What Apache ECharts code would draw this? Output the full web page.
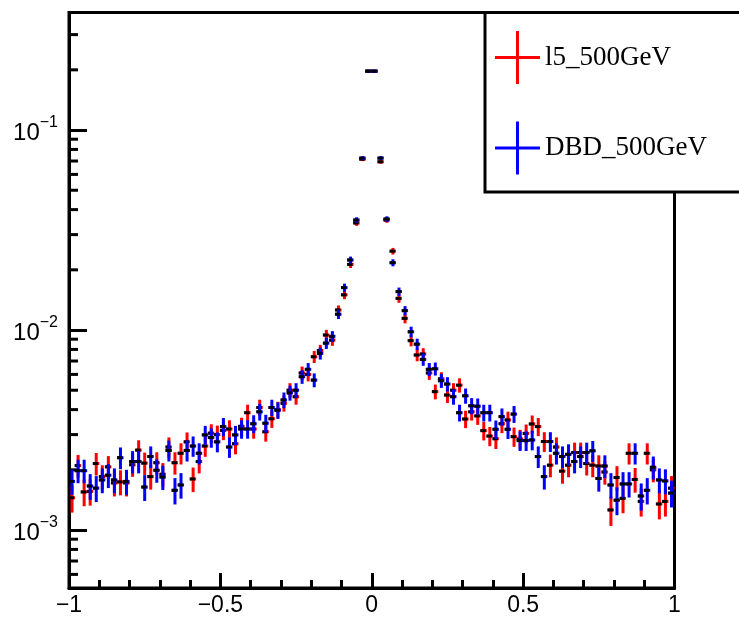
<!DOCTYPE html>
<html>
<head>
<meta charset="utf-8">
<script src="https://cdn.jsdelivr.net/npm/echarts@6/dist/echarts.min.js"></script>
<style>
html,body{margin:0;padding:0;background:#fff;}
#chart{width:739px;height:617px;}
</style>
</head>
<body>
<div id="chart"></div>
<script>
// ---- histogram binning: 100 bins on [-1, 1] ----
const xMin = -1, xMax = 1, nBins = 100;
const yMin = 5.13e-4, yMax = 0.387;
const seriesNames = ['l5_500GeV', 'DBD_500GeV'];
const seriesColors = ['#ff0000', '#0000ff'];

// bin contents (normalised), l5_500GeV (red)
const l5Values = [
  1.45e-3, 2.10e-3, 1.55e-3, 1.56e-3, 2.15e-3, 1.85e-3, 2.07e-3, 1.72e-3, 1.74e-3, 1.72e-3,
  2.12e-3, 2.51e-3, 2.16e-3, 1.85e-3, 2.17e-3, 1.90e-3, 2.60e-3, 2.17e-3, 2.42e-3, 2.76e-3,
  1.80e-3, 2.20e-3, 2.63e-3, 3.05e-3, 3.00e-3, 3.15e-3, 3.20e-3, 2.70e-3, 3.30e-3, 3.86e-3,
  3.20e-3, 4.10e-3, 3.10e-3, 3.60e-3, 4.00e-3, 4.30e-3, 5.00e-3, 4.64e-3, 6.10e-3, 6.00e-3,
  7.35e-3, 7.90e-3, 9.44e-3, 8.90e-3, 1.26e-2, 1.50e-2, 2.13e-2, 3.43e-2, 7.15e-2, 0.197,
  0.197, 6.94e-2, 3.55e-2, 2.48e-2, 1.44e-2, 1.144e-2, 8.85e-3, 7.50e-3, 7.59e-3, 6.10e-3,
  4.92e-3, 5.70e-3, 4.73e-3, 5.00e-3, 5.30e-3, 3.59e-3, 3.90e-3, 3.72e-3, 3.14e-3, 2.95e-3,
  2.86e-3, 3.40e-3, 3.55e-3, 2.93e-3, 2.85e-3, 3.04e-3, 3.39e-3, 3.29e-3, 2.77e-3, 2.11e-3,
  2.60e-3, 1.97e-3, 2.11e-3, 2.44e-3, 2.44e-3, 2.15e-3, 2.11e-3, 2.09e-3, 1.95e-3, 1.26e-3,
  1.83e-3, 1.44e-3, 2.42e-3, 1.79e-3, 1.39e-3, 2.42e-3, 2.00e-3, 1.35e-3, 1.39e-3, 1.62e-3
];
// DBD_500GeV (blue)
const dbdValues = [
  1.75e-3, 1.98e-3, 1.98e-3, 1.66e-3, 1.62e-3, 1.78e-3, 1.88e-3, 1.78e-3, 2.30e-3, 1.75e-3,
  2.20e-3, 2.20e-3, 1.64e-3, 2.33e-3, 1.99e-3, 1.84e-3, 2.50e-3, 1.58e-3, 1.68e-3, 2.50e-3,
  2.63e-3, 2.42e-3, 2.99e-3, 2.90e-3, 2.76e-3, 3.29e-3, 2.60e-3, 2.99e-3, 3.20e-3, 3.20e-3,
  3.40e-3, 3.90e-3, 3.42e-3, 4.10e-3, 3.97e-3, 4.47e-3, 4.85e-3, 5.00e-3, 5.84e-3, 6.36e-3,
  5.62e-3, 7.64e-3, 8.60e-3, 9.30e-3, 1.20e-2, 1.63e-2, 2.24e-2, 3.55e-2, 7.24e-2, 0.197,
  0.197, 7.24e-2, 3.59e-2, 2.17e-2, 1.556e-2, 1.25e-2, 9.80e-3, 8.50e-3, 7.13e-3, 6.36e-3,
  6.40e-3, 5.58e-3, 5.37e-3, 4.64e-3, 3.86e-3, 4.69e-3, 4.18e-3, 4.16e-3, 3.86e-3, 3.86e-3,
  3.19e-3, 3.69e-3, 3.19e-3, 3.80e-3, 2.80e-3, 2.80e-3, 2.82e-3, 2.33e-3, 1.85e-3, 2.77e-3,
  2.42e-3, 2.33e-3, 2.39e-3, 2.20e-3, 2.33e-3, 2.44e-3, 2.49e-3, 1.81e-3, 2.09e-3, 1.68e-3,
  1.41e-3, 1.70e-3, 1.70e-3, 2.42e-3, 1.48e-3, 1.58e-3, 2.06e-3, 1.78e-3, 1.76e-3, 1.53e-3
];
// equivalent number of entries used for Poisson error bars (sigma = sqrt(v / N))
const equivEntries = 28000;

// tick positions
const xTickValues = [-1, -0.5, 0, 0.5, 1];
const yMinorTicks = [6e-4, 7e-4, 8e-4, 9e-4,
  2e-3, 3e-3, 4e-3, 5e-3, 6e-3, 7e-3, 8e-3, 9e-3,
  2e-2, 3e-2, 4e-2, 5e-2, 6e-2, 7e-2, 8e-2, 9e-2,
  2e-1, 3e-1];

const binWidth = (xMax - xMin) / nBins;
const binCenters = [];
for (let i = 0; i < nBins; i++) binCenters.push(xMin + binWidth * (i + 0.5));

function histSeries(name, color, values) {
  return {
    type: 'custom',
    name: name,
    coordinateSystem: 'cartesian2d',
    itemStyle: { color: color },
    data: values.map((v, i) => [binCenters[i], v, Math.sqrt(v / equivEntries)]),
    encode: { x: 0, y: 1 },
    silent: true,
    renderItem: function (params, api) {
      const x = api.value(0), v = api.value(1), e = api.value(2);
      const c = api.coord([x, v]);
      const hi = api.coord([x, Math.min(v + e, yMax)]);
      const lo = api.coord([x, Math.max(v - e, yMin)]);
      const left = api.coord([x - binWidth / 2, v]);
      const right = api.coord([x + binWidth / 2, v]);
      return {
        type: 'group',
        children: [
          { type: 'line', shape: { x1: c[0], y1: hi[1], x2: c[0], y2: lo[1] },
            style: { stroke: color, lineWidth: 3 } },
          { type: 'line', shape: { x1: left[0], y1: c[1], x2: right[0], y2: c[1] },
            style: { stroke: color, lineWidth: 3 } },
          { type: 'rect', shape: { x: c[0] - 3.5, y: c[1] - 1.5, width: 5.5, height: 3 },
            style: { fill: '#000' } }
        ]
      };
    }
  };
}

const chart = echarts.init(document.getElementById('chart'), null, { renderer: 'canvas' });
const labelFont = 'Liberation Sans';

chart.setOption({
  animation: false,
  backgroundColor: '#fff',
  grid: {
    left: 69, right: 64.5, top: 12.5, bottom: 29,
    show: true, borderColor: '#000', borderWidth: 3, backgroundColor: 'transparent',
    outerBoundsMode: 'none'
  },
  legend: {
    data: seriesNames,
    orient: 'vertical',
    left: 485, top: 12.5,
    padding: [18.5, 80, 17.5, 10],
    itemGap: 37.5,
    itemWidth: 45, itemHeight: 53,
    icon: 'path://M0,25L45,25L45,28L0,28Z M21,0L24,0L24,53L21,53Z',
    backgroundColor: '#fff',
    borderColor: '#000', borderWidth: 3,
    selectedMode: false,
    textStyle: { fontFamily: 'Liberation Serif', fontSize: 27, color: '#000' }
  },
  xAxis: {
    type: 'value', min: xMin, max: xMax, interval: 0.5,
    axisLine: { show: true, onZero: false, lineStyle: { color: '#000', width: 3 } },
    axisTick: { show: true, inside: true, length: 15, lineStyle: { color: '#000', width: 3 } },
    minorTick: { show: true, splitNumber: 5, length: 8, lineStyle: { color: '#000', width: 3 } },
    splitLine: { show: false },
    axisLabel: {
      margin: 6, fontFamily: labelFont, fontSize: 23, color: '#000',
      formatter: function (v) {
        if (xTickValues.indexOf(v) < 0) return '';
        return String(v).replace('-', '\u2212');
      }
    }
  },
  yAxis: {
    type: 'log', logBase: 10, min: yMin, max: yMax,
    axisLine: { show: true, onZero: false, lineStyle: { color: '#000', width: 3 } },
    axisTick: { show: true, inside: true, length: 18, lineStyle: { color: '#000', width: 3 } },
    splitLine: { show: false },
    axisLabel: {
      margin: 11, color: '#000',
      formatter: function (v) {
        const e = Math.log10(v), r = Math.round(e);
        if (Math.abs(e - r) > 1e-6) return '';
        return '{b|10}{s|' + (r < 0 ? '\u2212' : '') + Math.abs(r) + '}';
      },
      rich: {
        b: { fontFamily: labelFont, fontSize: 24, color: '#000', padding: [6, 0, 0, 0] },
        s: { fontFamily: labelFont, fontSize: 16, color: '#000', verticalAlign: 'top' }
      }
    }
  },
  series: [
    {
      type: 'custom',
      name: 'yMinorTicks',
      coordinateSystem: 'cartesian2d',
      silent: true,
      data: yMinorTicks.map(v => [xMin, v]),
      encode: { x: 0, y: 1 },
      renderItem: function (params, api) {
        const p = api.coord([api.value(0), api.value(1)]);
        return { type: 'line', shape: { x1: p[0], y1: p[1], x2: p[0] + 9, y2: p[1] },
                 style: { stroke: '#000', lineWidth: 3 } };
      }
    },
    histSeries(seriesNames[0], seriesColors[0], l5Values),
    histSeries(seriesNames[1], seriesColors[1], dbdValues)
  ]
});
</script>
</body>
</html>
